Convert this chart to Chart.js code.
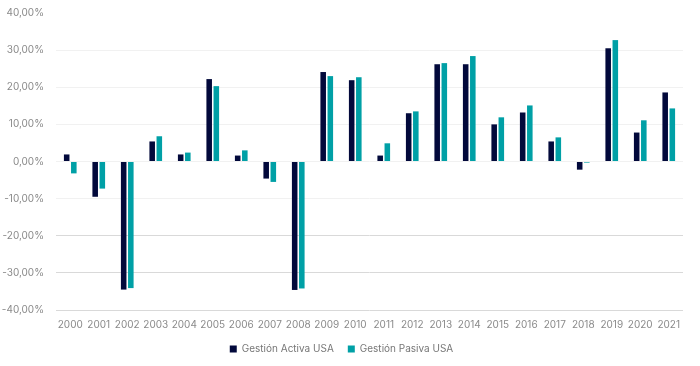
<!DOCTYPE html>
<html><head><meta charset="utf-8">
<script src="https://cdn.jsdelivr.net/npm/chart.js@4"></script>
<style>html,body{margin:0;padding:0;background:#fff}#w{width:700px;height:366px}</style>
</head><body><div id="w"><canvas id="c"></canvas></div>
<script>
const years = ['2000','2001','2002','2003','2004','2005','2006','2007','2008','2009','2010','2011','2012','2013','2014','2015','2016','2017','2018','2019','2020','2021'];
const activa = [1.9,-9.5,-34.5,5.4,1.9,22.2,1.6,-4.6,-34.6,24.1,21.9,1.6,13.0,26.2,26.2,10.0,13.2,5.4,-2.2,30.5,7.8,18.6];
const pasiva = [-3.2,-7.3,-34.1,6.8,2.4,20.3,3.0,-5.5,-34.2,23.0,22.7,4.9,13.5,26.5,28.4,11.9,15.1,6.5,-0.3,32.7,11.1,14.3];
const yTicks = [40,30,20,10,0,-10,-20,-30,-40];

const fmt = v => v.toFixed(2).replace('.', ',') + '%';
Chart.defaults.font.family = 'Inter, "Open Sans", sans-serif';
Chart.defaults.font.size = 10;
Chart.defaults.color = '#8a8a8a';
new Chart(document.getElementById('c'), {
  type: 'bar',
  data: {
    labels: years,
    datasets: [
      {label: 'Gestión Activa USA', data: activa, backgroundColor: '#02093b', categoryPercentage: 0.5, barPercentage: 0.78},
      {label: 'Gestión Pasiva USA', data: pasiva, backgroundColor: '#00a0a6', categoryPercentage: 0.5, barPercentage: 0.78}
    ]
  },
  options: {
    responsive: true, maintainAspectRatio: false, animation: false,
    layout: {padding: {top: 13, right: 17, left: 0, bottom: 2}},
    plugins: {
      tooltip: {enabled: false},
      legend: {position: 'bottom', labels: {boxWidth: 7, boxHeight: 7, padding: 14, color: '#777', font: {size: 10}}}
    },
    scales: {
      x: {
        grid: {display: false}, border: {display: false},
        afterFit: s => { s.height = 20; s.paddingTop = 0; s.paddingBottom = 0; },
        ticks: {padding: 1, maxRotation: 0, autoSkip: false, color: '#8a8a8a'}
      },
      y: {
        min: -40, max: 40,
        afterBuildTicks: s => { s.ticks = yTicks.map(v => ({value: v})); },
        afterFit: s => { s.width = 56; s.paddingTop = 0; s.paddingBottom = 0; },
        border: {display: false},
        grid: {drawTicks: false, lineWidth: 1,
          color: ctx => { const v = ctx.tick && ctx.tick.value; if (v === 40) return 'rgba(0,0,0,0)'; return v <= -20 ? '#d9d9d9' : '#f1f1f1'; }},
        ticks: {padding: 12, callback: v => fmt(v), color: '#8a8a8a'}
      }
    }
  }
});
</script></body></html>
